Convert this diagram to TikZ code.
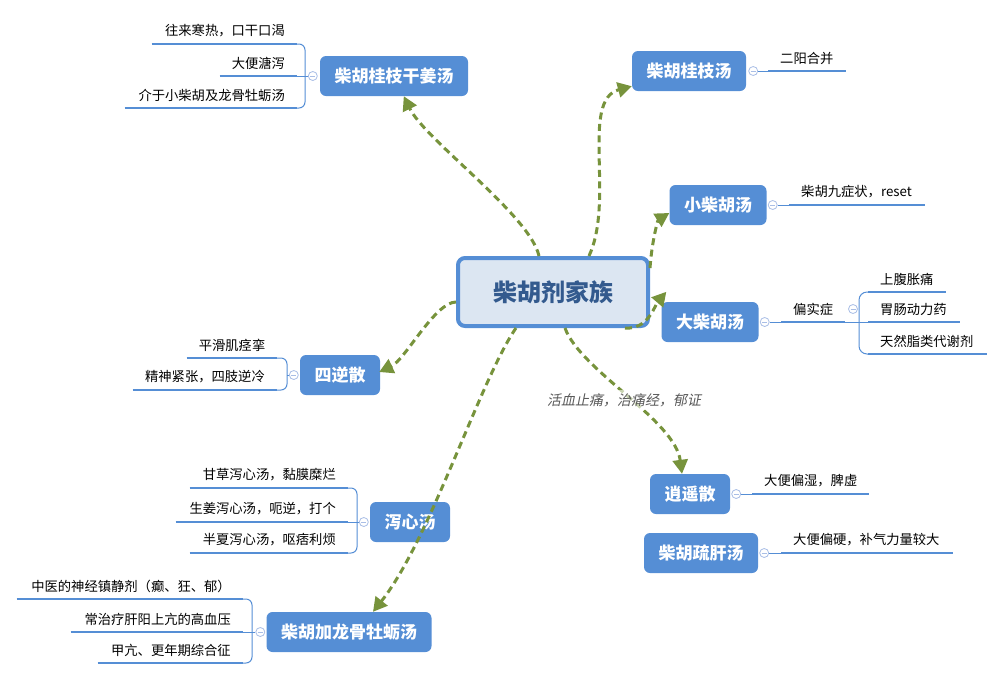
\documentclass[tikz,border=0pt]{standalone}
\usepackage{fontspec}
\setmainfont{Noto Sans CJK SC}
\newfontfamily\slantfont[FakeSlant=0.2]{Noto Sans CJK SC}
\usepackage{tikz}
\usetikzlibrary{arrows.meta, calc, positioning}
\definecolor{topicblue}{HTML}{558ED5}
\definecolor{rootfill}{HTML}{DCE6F2}
\definecolor{roottext}{HTML}{335A8E}
\definecolor{flowgreen}{HTML}{77933C}
\definecolor{foldblue}{HTML}{A9BEE6}
\definecolor{notegray}{HTML}{595959}
\tikzstyle{root} = [draw=topicblue, line width=4pt, fill=rootfill, rounded corners=7pt, minimum width=190pt, minimum height=68pt, text=roottext, font=\fontsize{24}{28}\selectfont\bfseries]
\tikzstyle{topic} = [fill=topicblue, rounded corners=6pt, inner xsep=14.5pt, minimum height=40pt, text=white, font=\fontsize{17}{20}\selectfont\bfseries]
\tikzstyle{fold} = [circle, draw=foldblue, fill=white, line width=0.8pt, minimum size=9pt, inner sep=0pt, path picture={\draw[foldblue, line width=0.8pt] ([xshift=-2.5pt]path picture bounding box.center) -- ([xshift=2.5pt]path picture bounding box.center);}]
\tikzstyle{leafL} = [anchor=south east, inner xsep=12pt, inner ysep=6.5pt, align=right, font=\fontsize{13.3}{16}\selectfont]
\tikzstyle{leafR} = [anchor=south west, inner xsep=12pt, inner ysep=6.5pt, align=left, font=\fontsize{13.3}{16}\selectfont]
\tikzstyle{uline} = [draw=topicblue, line width=2.8pt]
\tikzstyle{bline} = [draw=topicblue, line width=1pt]
\tikzstyle{flow} = [draw=flowgreen, line width=3pt, dash pattern=on 7pt off 4.5pt, -{Triangle[length=14pt,width=15pt]}]
\tikzstyle{note} = [text=notegray, fill=white, fill opacity=0.6, text opacity=1, font=\slantfont\fontsize{14}{16}\selectfont]

\begin{document}
\begin{tikzpicture}[x=1pt, y=-1pt]
  \useasboundingbox (0,0) rectangle (1005,681);

  % Root
  \node[root] (fam) at (553,292) {柴胡剂家族};

  % Main topics
  \node[topic] (k1) at (394,76) {柴胡桂枝干姜汤};
  \node[topic] (k2) at (689,71) {柴胡桂枝汤};
  \node[topic] (k3) at (718,205) {小柴胡汤};
  \node[topic] (k4) at (710,322) {大柴胡汤};
  \node[topic] (k5) at (340,375) {四逆散};
  \node[topic] (k6) at (690,494) {逍遥散};
  \node[topic] (k7) at (701,553) {柴胡疏肝汤};
  \node[topic] (k9) at (410,522) {泻心汤};
  \node[topic] (k8) at (349,632) {柴胡加龙骨牡蛎汤};

  % Fold markers
  \node[fold] (f1) at ($(k1.west)+(-7,0)$) {};
  \node[fold] (f2) at ($(k2.east)+(7,0)$) {};
  \node[fold] (f3) at ($(k3.east)+(6,0)$) {};
  \node[fold] (f4) at ($(k4.east)+(6,0)$) {};
  \node[fold] (f5) at ($(k5.west)+(-6,0)$) {};
  \node[fold] (f6) at ($(k6.east)+(6,0)$) {};
  \node[fold] (f7) at ($(k7.east)+(6,0)$) {};
  \node[fold] (f9) at ($(k9.west)+(-6,0)$) {};
  \node[fold] (f8) at ($(k8.west)+(-6,0)$) {};
  \node[fold] (fp) at (853,309) {};

  % Leaves of 柴胡桂枝干姜汤
  \node[leafL, text width=121pt] (g1a) at (297,44) {往来寒热，口干口渴};
  \node[leafL, text width=53pt] (g1b) at (297,76) {大便溏泻};
  \node[leafL, text width=148pt] (g1c) at (297,108) {介于小柴胡及龙骨牡蛎汤};
  \draw[bline] (f1) -- (g1b.south east);
  \draw[bline, rounded corners=6pt] (g1a.south east) -- ++(8,0) |- (g1c.south east);

  % Leaves of 柴胡桂枝汤 and 小柴胡汤
  \node[leafR, text width=54pt] (g2a) at (768,71) {二阳合并};
  \draw[bline] (f2) -- (g2a.south west);
  \node[leafR, text width=112pt] (g3a) at (789,205) {柴胡九症状，reset};
  \draw[bline] (f3) -- (g3a.south west);

  % Leaves of 大柴胡汤
  \node[leafR, text width=40pt] (ps) at (781,322) {偏实症};
  \node[leafR, text width=54pt] (p1) at (868,292) {上腹胀痛};
  \node[leafR, text width=68pt] (p2) at (868,322) {胃肠动力药};
  \node[leafR, text width=95pt] (p3) at (868,354) {天然脂类代谢剂};
  \draw[bline] (f4) -- (ps.south west);
  \draw[bline] (ps.south east) -- (p2.south west);
  \draw[bline, rounded corners=8pt] (p1.south west) -- ++(-9,0) |- (p3.south west);

  % Leaves of 四逆散
  \node[leafL, text width=66pt] (s1) at (277,358) {平滑肌痉挛};
  \node[leafL, text width=120pt] (s2) at (277,390) {精神紧张，四肢逆冷};
  \coordinate (b5) at (287,375);
  \draw[bline] (f5) -- (b5);
  \draw[bline, rounded corners=6pt] (s1.south east) -- ++(10,0) |- (s2.south east);

  % Leaves of 逍遥散 and 柴胡疏肝汤
  \node[leafR, text width=93pt] (y1) at (752,494) {大便偏湿，脾虚};
  \draw[bline] (f6) -- (y1.south west);
  \node[leafR, text width=148pt] (z1) at (781,553) {大便偏硬，补气力量较大};
  \draw[bline] (f7) -- (z1.south west);

  % Leaves of 泻心汤
  \node[leafL, text width=134pt] (x1) at (348,488) {甘草泻心汤，黏膜糜烂};
  \node[leafL, text width=148pt] (x2) at (348,522) {生姜泻心汤，呃逆，打个};
  \node[leafL, text width=134pt] (x3) at (348,553) {半夏泻心汤，呕痞利烦};
  \draw[bline] (f9) -- (x2.south east);
  \draw[bline, rounded corners=6pt] (x1.south east) -- ++(9,0) |- (x3.south east);

  % Leaves of 柴胡加龙骨牡蛎汤
  \node[leafL, text width=202pt] (l1) at (243,599) {中医的神经镇静剂（癫、狂、郁）};
  \node[leafL, text width=148pt] (l2) at (243,632) {常治疗肝阳上亢的高血压};
  \node[leafL, text width=121pt] (l3) at (243,663) {甲亢、更年期综合征};
  \draw[bline] (f8) -- (l2.south east);
  \draw[bline, rounded corners=6pt] (l1.south east) -- ++(9,0) |- (l3.south east);

  % Underlines
  \foreach \n in {g1a,g1b,g1c,g2a,g3a,ps,p1,p2,p3,s1,s2,y1,z1,x1,x2,x3,l1,l2,l3}
    \draw[uline] (\n.south west) -- (\n.south east);

  % Dashed arrows from the root
  \draw[flow] ($(fam.north)+(-14,0)$) .. controls (530,215) and (425,140) .. (k1);
  \draw[flow] ($(fam.north)+(36,0)$) .. controls (615,200) and (580,100) .. (k2);
  \draw[flow] ($(fam.north east)+(0,12)$) .. controls (652,240) and (658,220) .. ($(k3.west)+(0,8)$);
  \draw[flow] ($(fam.south)+(72,0)$) .. controls (648,330) and (655,305) .. ($(k4.north west)+(5,-10)$);
  \draw[flow] ($(fam.west)+(0,10)$) .. controls (435,302) and (405,360) .. ($(k5.east)+(-1,-3)$);
  \draw[flow] ($(fam.south)+(-37,0)$) .. controls (480,380) and (430,540) .. ($(k8.north)+(24,0)$);
  \draw[flow] ($(fam.south)+(12,0)$) .. controls (580,370) and (675,420) .. ($(k6.north)+(-8,0)$);
  \node[note] (lbl) at (624,400) {活血止痛，治痛经，郁证};
\end{tikzpicture}
\end{document}
